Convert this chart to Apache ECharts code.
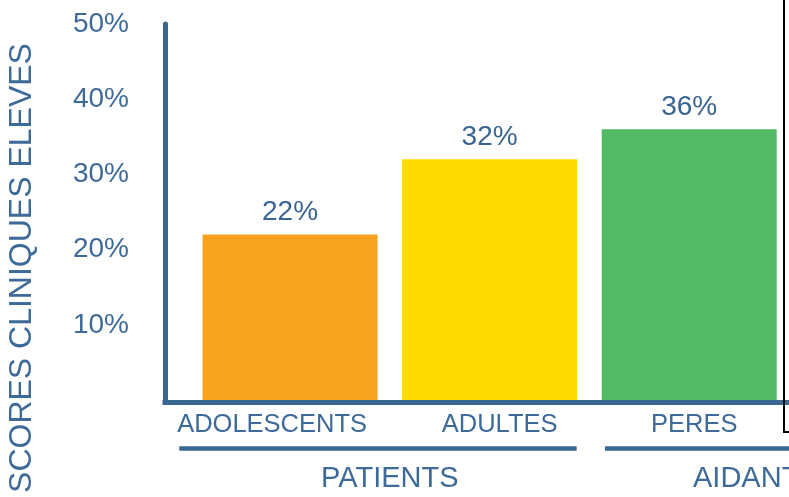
<!DOCTYPE html>
<html>
<head>
<meta charset="utf-8">
<script src="https://cdn.jsdelivr.net/npm/echarts@6/dist/echarts.min.js"></script>
<style>
html,body{margin:0;padding:0;background:#fff;}
#chart{width:789px;height:497px;}
</style>
</head>
<body>
<div id="chart"></div>
<script>
// ---- data ----
const categories = ['ADOLESCENTS', 'ADULTES', 'PERES'];
const values = [22, 32, 36];
const barColors = ['#F8A21D', '#FFDA00', '#53BA64'];
const groups = ['PATIENTS', 'AIDANTS'];
const yTitle = 'SCORES CLINIQUES ELEVES';

// ---- layout (category units) ----
const bracketStart = [-0.555, 1.578];
const bracketEnd = [1.436, 3.5];
const groupLabelAt = [0.5, 2.334];
const catLabelAt = [-0.09, 1.05, 2.025];

const textColor = '#3D6A98';
const axisColor = '#3A6792';
const font = "'Liberation Sans', Arial, sans-serif";

const chart = echarts.init(document.getElementById('chart'), null, {renderer: 'canvas'});

const option = {
  backgroundColor: '#fff',
  animation: false,
  grid: {left: 165, right: 0, top: 24, bottom: 97, containLabel: false, outerBoundsMode: 'none'},
  xAxis: {
    type: 'value',
    min: -0.6266,
    max: 2.5,
    offset: 2.5,
    splitLine: {show: false},
    axisTick: {show: false},
    axisLine: {show: true, onZero: false, lineStyle: {color: axisColor, width: 5, cap: 'square'}},
    axisLabel: {
      customValues: catLabelAt,
      formatter: v => categories[Math.round(v)],
      color: textColor,
      fontSize: 25.5,
      fontFamily: font,
      margin: 9
    }
  },
  yAxis: {
    type: 'value',
    min: 0,
    max: 50,
    interval: 10,
    name: yTitle,
    nameLocation: 'middle',
    nameRotate: 90,
    nameGap: 127,
    nameTextStyle: {color: textColor, fontSize: 32, fontFamily: font, padding: [0, 112, 0, 0]},
    splitLine: {show: false},
    axisTick: {show: false},
    axisLine: {show: true, onZero: false, lineStyle: {color: axisColor, width: 5}},
    axisLabel: {
      formatter: v => v === 0 ? '' : v + '%',
      color: textColor,
      fontSize: 28,
      fontFamily: font,
      margin: 36,
      padding: [0, 0, 5, 0]
    }
  },
  series: [
    {
      type: 'bar',
      barWidth: 175,
      data: categories.map((c, i) => ({value: [i, values[i]], itemStyle: {color: barColors[i]}})),
      label: {
        show: true,
        position: 'top',
        distance: 8,
        formatter: p => p.value[1] + '%',
        color: '#3A6592',
        fontSize: 28,
        fontFamily: font
      }
    },
    {
      type: 'custom',
      clip: false,
      silent: true,
      data: groups.map((g, i) => [bracketStart[i], bracketEnd[i], groupLabelAt[i], 0]),
      encode: {x: [0, 1, 2], y: 3},
      renderItem: (params, api) => {
        const i = params.dataIndex;
        const a = api.coord([api.value(0), 0]);
        const b = api.coord([api.value(1), 0]);
        const c = api.coord([api.value(2), 0]);
        return {
          type: 'group',
          children: [
            {type: 'line', shape: {x1: a[0], y1: a[1] + 48.5, x2: b[0], y2: b[1] + 48.5},
             style: {stroke: axisColor, lineWidth: 4.5}},
            {type: 'text', x: c[0], y: c[1] + 79,
             style: {text: groups[i], fill: textColor, fontSize: 29, fontFamily: font, align: 'center', verticalAlign: 'middle'}}
          ]
        };
      }
    }
  ],
  graphic: [
    {type: 'rect', z: 100, shape: {x: 784, y: -5, width: 60, height: 437},
     style: {fill: 'none', stroke: '#000', lineWidth: 2}}
  ]
};
chart.setOption(option);
</script>
</body>
</html>
